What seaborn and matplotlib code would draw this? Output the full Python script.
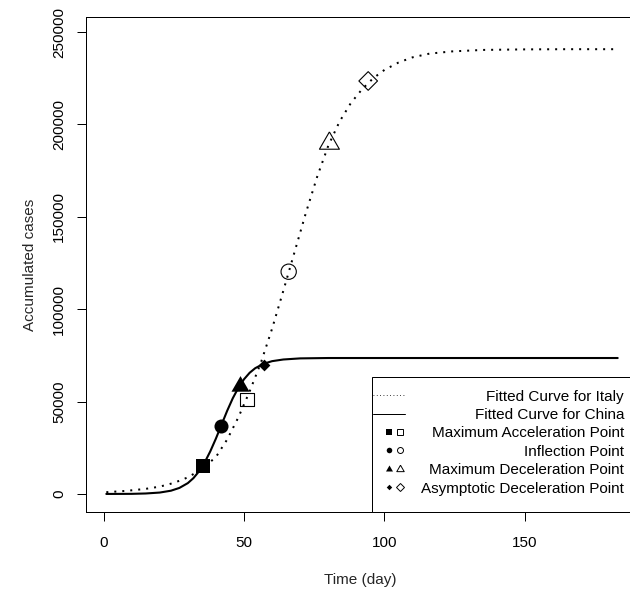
import matplotlib
matplotlib.use("Agg")
import matplotlib.pyplot as plt
import seaborn as sns
from matplotlib.patches import Rectangle

# values
italy_days = [1, 8, 15, 20, 25, 30, 35, 40, 44, 48, 52, 56, 60, 64, 68, 72, 76, 80,
              84, 88, 92, 96, 100, 105, 110, 116, 124, 135, 150, 165, 182]
italy_cases = [1000, 1700, 2800, 4000, 6000, 9000, 13500, 20000, 29500, 41500, 55500,
               71000, 89500, 110000, 131000, 152000, 171500, 188500, 201500, 211500,
               219000, 225000, 229500, 233500, 236300, 238300, 239500, 240300, 240600,
               240700, 240700]

china_days = [1, 10, 15, 20, 24, 27, 30, 32, 34, 36, 38, 40, 42, 44, 46, 48, 50, 52,
              54, 57, 60, 64, 70, 80, 100, 183]
china_cases = [50, 100, 300, 800, 1800, 3300, 5900, 8600, 12300, 17100, 23100, 30000,
               37500, 45000, 51800, 57500, 62100, 65600, 68100, 70500, 71900, 72800,
               73400, 73600, 73600, 73600]

# characteristic points (China filled, Italy open)
point_names = ["Maximum Acceleration Point", "Inflection Point",
               "Maximum Deceleration Point", "Asymptotic Deceleration Point"]
china_point_days = [35.4, 41.8, 48.6, 57.1]
china_point_cases = [15400, 36800, 58200, 69800]
italy_point_days = [51.1, 65.9, 80.4, 94.2]
italy_point_cases = [51000, 120300, 189700, 223500]

x_ticks = [0, 50, 100, 150]
y_ticks = [0, 50000, 100000, 150000, 200000, 250000]

# styling
TRI = [(0, 1), (-0.866, -0.5), (0.866, -0.5), (0, 1)]
markers = ["s", "o", TRI, "D"]
filled_sizes = [10.1, 10.1, 15, 6.0]
open_sizes = [9.6, 11, 16.6, 9.5]
leg_filled_sizes = [4, 4, 5.8, 2.8]
leg_open_sizes = [4, 4.3, 6.2, 3.6]
DOTTED = (0, (1, 3))

sns.set_theme(style="ticks")
plt.rcParams["font.family"] = ["Liberation Sans", "DejaVu Sans"]
plt.rcParams["font.size"] = 11

fig = plt.figure(figsize=(6.3, 5.9), dpi=100)
ax = fig.add_axes([0.13651, 0.13153, 0.86984, 0.84017])

sns.lineplot(x=italy_days, y=italy_cases, ax=ax, color="black", lw=1.44,
             linestyle=DOTTED)
sns.lineplot(x=china_days, y=china_cases, ax=ax, color="black", lw=1.5)

for i in range(len(point_names)):
    sns.scatterplot(x=[china_point_days[i]], y=[china_point_cases[i]], ax=ax,
                    marker=markers[i], s=filled_sizes[i] ** 2, color="black",
                    linewidth=0, zorder=3)
    sns.scatterplot(x=[italy_point_days[i]], y=[italy_point_cases[i]], ax=ax,
                    marker=markers[i], s=open_sizes[i] ** 2, facecolor="none",
                    edgecolor="black", linewidth=0.8, zorder=3)

ax.set_xlim(-6.23, 188.8)
ax.set_ylim(-9934, 258284)
ax.set_xticks(x_ticks, [str(v) for v in x_ticks])
ax.set_yticks(y_ticks, [str(v) for v in y_ticks])
for lab in ax.get_yticklabels():
    lab.set_rotation(90)
    lab.set_va("center")
ax.tick_params(direction="out", length=6.8, width=0.72, color="black",
               labelsize=11, labelcolor="black")
ax.tick_params(axis="x", pad=10.5)
ax.tick_params(axis="y", pad=7.4)
for sp in ax.spines.values():
    sp.set_visible(True)
    sp.set_linewidth(0.72)
    sp.set_color("black")

ax.set_xlabel("Time (day)", fontsize=11, labelpad=16.5)
ax.set_ylabel("Accumulated cases", fontsize=11, labelpad=11)

# legend drawn by hand, R style (symbols left, labels right-aligned)
tr = ax.transAxes
ax.add_patch(Rectangle((0.5214, 0), 0.6, 0.2725, transform=tr, facecolor="white",
                       edgecolor="black", lw=0.72, zorder=5, clip_on=False))
row_mid = [0.2364, 0.1993, 0.1622, 0.1251, 0.0880, 0.0508]
row_base = [0.2253, 0.1882, 0.1511, 0.1140, 0.0769, 0.0397]
labels = ["Fitted Curve for Italy", "Fitted Curve for China"] + point_names
for yb, txt in zip(row_base, labels):
    ax.text(0.9818, yb, txt, transform=tr, ha="right", va="baseline",
            fontsize=11, color="black", zorder=6)
ax.plot([0.5243, 0.5821], [row_mid[0]] * 2, transform=tr, color="black", lw=0.6,
        linestyle=DOTTED, zorder=6, clip_on=False)
ax.plot([0.5243, 0.5821], [row_mid[1]] * 2, transform=tr, color="black", lw=0.72,
        zorder=6, clip_on=False)
for i in range(len(point_names)):
    y = row_mid[i + 2]
    ax.plot([0.5529], [y], transform=tr, marker=markers[i], ms=leg_filled_sizes[i],
            color="black", mew=0, ls="none", zorder=6, clip_on=False)
    ax.plot([0.5721], [y], transform=tr, marker=markers[i], ms=leg_open_sizes[i],
            mfc="none", mec="black", mew=0.7, ls="none", zorder=6, clip_on=False)

fig.savefig("out.png", dpi=100)
